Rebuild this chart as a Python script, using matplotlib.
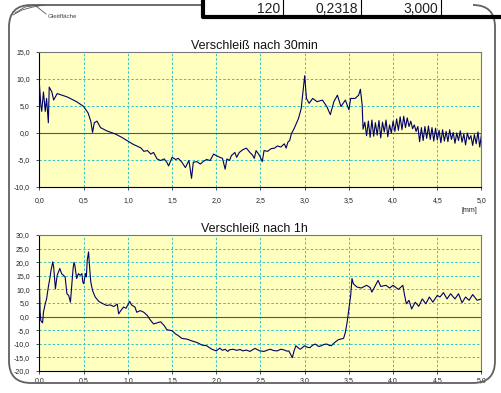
import numpy as np
import matplotlib
matplotlib.use("Agg")
import matplotlib.pyplot as plt
from matplotlib.patches import FancyBboxPatch, Rectangle
from matplotlib.lines import Line2D
from matplotlib.transforms import IdentityTransform
from matplotlib.ticker import FuncFormatter

plt.rcParams['font.family'] = ['Liberation Sans', 'DejaVu Sans']

# Verschleiß nach 30min
x_30 = [0.00, 0.015, 0.025, 0.045, 0.065, 0.08, 0.10, 0.11, 0.14, 0.16, 0.20, 0.31,
        0.42, 0.50, 0.55, 0.58, 0.60, 0.62, 0.65, 0.69, 0.76, 0.86, 0.93, 1.00,
        1.06, 1.10, 1.15, 1.18, 1.22, 1.26, 1.29, 1.33, 1.37, 1.41, 1.44, 1.46,
        1.50, 1.54, 1.57, 1.61, 1.65, 1.69, 1.70, 1.72, 1.74, 1.78, 1.82, 1.85,
        1.89, 1.93, 1.97, 2.00, 2.04, 2.07, 2.10, 2.12, 2.15, 2.17, 2.21, 2.23,
        2.26, 2.30, 2.34, 2.38, 2.41, 2.43, 2.45, 2.49, 2.52, 2.54, 2.58, 2.62,
        2.66, 2.69, 2.73, 2.77, 2.79, 2.81, 2.83, 2.85, 2.88, 2.93, 2.96, 2.98,
        3.00, 3.02, 3.05, 3.09, 3.14, 3.20, 3.25, 3.29, 3.33, 3.37, 3.41, 3.46,
        3.50, 3.52, 3.57, 3.61, 3.63, 3.65,
        3.66, 3.68, 3.70, 3.72, 3.74, 3.76, 3.78, 3.80, 3.82, 3.84, 3.86, 3.88,
        3.90, 3.92, 3.94, 3.96, 3.98, 4.00, 4.02, 4.04, 4.06, 4.08, 4.10, 4.12,
        4.14, 4.16, 4.18, 4.20, 4.22, 4.24, 4.26, 4.28, 4.30, 4.32, 4.34, 4.36,
        4.38, 4.40, 4.42, 4.44, 4.46, 4.48, 4.50, 4.52, 4.54, 4.56, 4.58, 4.60,
        4.62, 4.64, 4.66, 4.68, 4.70, 4.72, 4.74, 4.76, 4.78, 4.80, 4.82, 4.84,
        4.86, 4.88, 4.90, 4.92, 4.94, 4.96, 4.98, 5.00]
y_30 = [8.8, 5.2, 4.0, 7.6, 4.0, 6.4, 1.9, 8.5, 7.6, 6.1, 7.3, 6.7,
        5.8, 4.9, 3.7, 2.2, 0.1, 1.9, 2.2, 1.0, 0.4, -0.2, -0.8, -1.5,
        -2.1, -2.4, -2.8, -3.4, -3.25, -3.9, -3.6, -4.8, -5.1, -4.8, -5.4, -6.1,
        -4.5, -4.9, -4.7, -5.4, -6.4, -5.1, -6.1, -8.4, -5.4, -5.3, -5.75, -5.3,
        -4.9, -5.1, -3.9, -4.2, -4.5, -4.7, -6.7, -4.8, -5.1, -4.2, -3.6, -4.5,
        -3.6, -3.1, -2.8, -3.6, -4.1, -4.7, -3.25, -4.2, -5.3, -3.25, -3.4, -2.9,
        -2.8, -2.4, -2.6, -2.0, -2.8, -1.7, -1.4, -0.1, 0.8, 2.7, 4.5, 7.6,
        10.6, 6.4, 5.5, 6.4, 5.8, 6.1, 4.9, 3.4, 5.8, 7.0, 4.9, 6.1,
        4.3, 6.4, 6.4, 7.0, 8.1, 5.2,
        0.7, 2.0, -0.5, 2.2, -0.8, 2.4, -0.6, 1.9, -0.4, 2.3, -0.9, 2.0,
        0.2, 2.4, -0.7, 1.5, 0.0, 2.2, 0.3, 2.6, 0.5, 3.0, 0.6, 3.1,
        1.0, 2.8, 1.2, 2.2, 0.8, 1.5, 0.3, 1.2, -1.6, 1.0, -1.4, 1.2,
        -1.0, 1.3, -1.2, 1.0, -1.5, 0.9, -1.3, 0.5, -1.8, 0.6, -1.5, 0.3,
        -1.6, 0.6, -1.2, 0.1, -1.9, 0.0, -1.4, 0.4, -1.7, -0.2, -2.2, 0.0,
        -1.2, -0.5, -2.3, -0.3, -2.0, 0.2, -2.6, -0.2]

# Verschleiß nach 1h
x_1h = [0.00, 0.007, 0.015, 0.035, 0.045, 0.065, 0.08, 0.10, 0.12, 0.13, 0.15, 0.16,
        0.18, 0.19, 0.20, 0.23, 0.25, 0.27, 0.29, 0.31, 0.33, 0.35, 0.36, 0.38,
        0.39, 0.40, 0.42, 0.44, 0.46, 0.48, 0.49, 0.50, 0.52, 0.53, 0.54, 0.555,
        0.565, 0.58, 0.60, 0.63, 0.67, 0.72, 0.76, 0.80, 0.84, 0.88, 0.895, 0.92,
        0.95, 0.98, 1.02, 1.04, 1.08, 1.10, 1.14, 1.18, 1.22, 1.25, 1.29, 1.33,
        1.37, 1.41, 1.44, 1.50, 1.54, 1.57, 1.61, 1.67, 1.72, 1.78, 1.84, 1.89,
        1.95, 2.00, 2.04, 2.07, 2.10, 2.13, 2.15, 2.19, 2.23, 2.27, 2.30, 2.34,
        2.38, 2.41, 2.44, 2.49, 2.54, 2.58, 2.61, 2.65, 2.69, 2.73, 2.76, 2.80,
        2.82, 2.86, 2.88, 2.90, 2.93, 2.95, 3.00, 3.03, 3.06, 3.09, 3.12, 3.16,
        3.19, 3.22, 3.25, 3.28, 3.30, 3.34, 3.38, 3.44, 3.46, 3.48, 3.50, 3.52,
        3.535, 3.55, 3.59, 3.64,
        3.70, 3.74, 3.76, 3.80, 3.83, 3.86, 3.92, 3.96, 4.00, 4.06, 4.11, 4.13,
        4.15, 4.18, 4.21, 4.25, 4.29, 4.33, 4.37, 4.41, 4.45, 4.50, 4.53, 4.57,
        4.61, 4.65, 4.70, 4.74, 4.78, 4.82, 4.86, 4.90, 4.95, 5.00]
y_1h = [10.9, 1.6, -1.5, -2.3, 1.6, 4.7, 6.5, 10.9, 14.6, 17.0, 20.1, 18.3,
        10.2, 12.7, 15.2, 17.7, 15.8, 15.2, 14.6, 8.4, 7.8, 5.3, 9.6, 17.7,
        19.9, 18.9, 14.0, 15.8, 15.2, 15.8, 12.7, 12.1, 15.8, 14.6, 20.7, 23.8,
        18.9, 12.7, 9.6, 7.2, 5.6, 4.7, 4.1, 4.3, 3.7, 4.6, 1.0, 2.2,
        3.5, 3.1, 5.6, 4.3, 3.5, 1.6, 2.2, 1.6, 0.4, -1.1, -2.7, -2.3,
        -1.9, -3.3, -4.8, -5.2, -6.4, -7.0, -8.0, -8.3, -8.9, -9.5, -10.5, -10.7,
        -12.0, -12.6, -11.6, -12.4, -12.0, -12.8, -12.2, -12.0, -12.4, -12.1, -12.6, -12.3,
        -12.8, -12.2, -11.7, -12.6, -12.8, -12.3, -12.0, -12.5, -12.6, -12.0, -12.2, -12.7,
        -12.6, -15.1, -12.6, -10.7, -11.6, -12.0, -10.7, -11.3, -11.4, -10.5, -10.1, -11.0,
        -10.7, -10.2, -10.1, -10.6, -10.7, -9.5, -8.5, -8.0, -5.8, -2.1, 2.8, 7.8,
        14.0, 12.1, 10.9, 10.5,
        11.5, 10.7, 9.0, 11.5, 13.3, 11.1, 11.5, 10.5, 11.5, 10.0, 11.5, 7.8,
        4.7, 6.0, 2.8, 5.3, 3.8, 6.5, 4.7, 7.2, 5.3, 7.8, 7.2, 8.8,
        6.5, 8.4, 6.5, 8.4, 5.1, 7.2, 6.0, 8.1, 6.0, 6.5]

titles = ["Verschleiß nach 30min", "Verschleiß nach 1h"]
ylims = [(-10, 15), (-20, 30)]
ysteps = [5, 5]
x_ticks = [0.0, 0.5, 1.0, 1.5, 2.0, 2.5, 3.0, 3.5, 4.0, 4.5, 5.0]

table_vals = ["120", "0,2318", "3,000"]

W, H = 502, 393
fig = plt.figure(figsize=(W / 100, H / 100), dpi=100)
fig.patch.set_facecolor('white')

def px_axes(left, top, right, bottom):
    return fig.add_axes([left / W, 1 - bottom / H, (right - left) / W, (bottom - top) / H])

comma = FuncFormatter(lambda v, p: ("%.1f" % v).replace('.', ','))

ax1 = px_axes(39.5, 52, 481.5, 187)
ax2 = px_axes(39.5, 235, 481.5, 371)

for ax, xs, ys, title, ylim, step in [(ax1, x_30, y_30, titles[0], ylims[0], ysteps[0]),
                                       (ax2, x_1h, y_1h, titles[1], ylims[1], ysteps[1])]:
    ax.set_facecolor('#FFFFC0')
    ax.set_xlim(0, 5)
    ax.set_ylim(*ylim)
    yt = np.arange(ylim[0], ylim[1] + 0.1, step)
    ax.set_xticks(x_ticks)
    ax.set_yticks(yt)
    for v in x_ticks[1:-1]:
        ax.axvline(v, color='#33C4C4', lw=0.7, ls=(0, (2.5, 2)), zorder=1)
    for v in yt[1:-1]:
        if v != 0:
            ax.axhline(v, color='#33C4C4', lw=0.7, ls=(0, (2.5, 2)), zorder=1)
    ax.axhline(0, color='#5A5A3A', lw=0.8, zorder=2)
    ax.plot(xs, ys, color='#000066', lw=0.8, zorder=3)
    ax.xaxis.set_major_formatter(comma)
    ax.yaxis.set_major_formatter(comma)
    ax.tick_params(labelsize=5, length=2, width=0.6, color='#333333', labelcolor='#222222')
    ax.tick_params(axis='y', pad=5)
    for s in ax.spines.values():
        s.set_color('#777777')
        s.set_linewidth(0.8)
    ax.spines['left'].set_color('#000000')
    ax.spines['bottom'].set_color('#000000')
    ax.set_title(title, fontsize=9, pad=2, x=0.486, color='#111111')

ax1.tick_params(axis='x', pad=5)
ax2.tick_params(axis='x', pad=2.5)
fig.text(469 / W, 1 - 210 / H, "[mm]", fontsize=5, ha='center', va='center', color='#222222')

# rounded frame around the chart block (pixel coords, y from bottom)
frame = FancyBboxPatch((9, H - 383), 486, 378, boxstyle="round,pad=0,rounding_size=22",
                       transform=IdentityTransform(), fill=False, ec='#606060', lw=1.3)
fig.patches.append(frame)

# table fragment at the top
fig.patches.append(Rectangle((203, H - 16), 270, 16, transform=IdentityTransform(),
                             fc='white', ec='none', zorder=5))
for xr, val in zip([280, 358, 438], table_vals):
    fig.text(xr / W, 1 - 13 / H, val, fontsize=10, ha='right', va='baseline',
             color='#222222', zorder=6)
# top rows of the table are cut off by the screenshot edge
fig.patches.append(Rectangle((203, H - 3), 299, 3, transform=IdentityTransform(),
                             fc='white', ec='none', zorder=7))
fig.lines.append(Line2D([203, 203, 502], [H, H - 17, H - 17], transform=IdentityTransform(),
                        color='black', lw=3, zorder=8))
for xc in [283, 361, 441]:
    fig.lines.append(Line2D([xc, xc], [H, H - 16], transform=IdentityTransform(),
                            color='black', lw=0.8, zorder=8))

# "Gleitfläche" sketch at top left
fig.lines.append(Line2D([13, 22, 33, 44], [H - 15, H - 10, H - 7, H - 5],
                        transform=IdentityTransform(), color='#555555', lw=0.6))
fig.lines.append(Line2D([15, 25, 40], [H - 13, H - 7, H - 5],
                        transform=IdentityTransform(), color='#555555', lw=0.6))
fig.lines.append(Line2D([36, 46], [H - 6, H - 14],
                        transform=IdentityTransform(), color='#555555', lw=0.6))
fig.text(48 / W, 1 - 16 / H, "Gleitfläche", fontsize=4.5, ha='left', va='center', color='#444444')

fig.savefig("out.png", dpi=100)
